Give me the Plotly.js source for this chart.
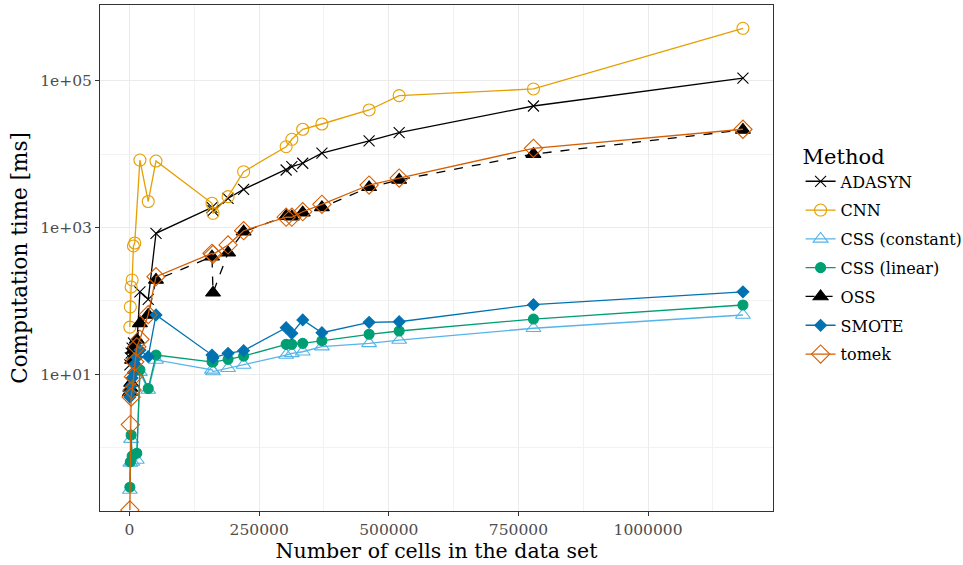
<!DOCTYPE html>
<html>
<head>
<meta charset="utf-8">
<script src="https://cdn.plot.ly/plotly-3.0.1.min.js"></script>
<style>
  html, body { margin: 0; padding: 0; background: #ffffff; }
  #chart { width: 963px; height: 565px; }
</style>
</head>
<body>
<div id="chart"></div>
<script>
// Number of cells in each benchmark data set
const cells = [600, 1500, 3000, 5000, 7500, 10000, 14000, 20000, 36000, 51000,
               159000, 161000, 190000, 220000, 302000, 313000, 334000, 371000,
               462000, 520000, 779000, 1183000];

// Computation time [ms] per method (null = not run on that data set)
const adasyn    = [13.4, 16.7, 19.5, 22.8, 26.7, 21, 25, 133, 105, 834,
                   1880, 1700, 2500, 3310, 6070, 6740, 7500, 10300,
                   15100, 19600, 45200, 108000];
const cnn       = [44, 83, 155, 193, 560, 615, null, 8300, 2260, 8050,
                   2140, 1560, 2630, 5760, 12600, 15900, 21800, 25700,
                   39900, 62500, 77100, 517000];
const cssConst  = [0.265, 0.62, 1.31, 0.64, null, null, 0.68, 10.7, 6.1, 15.7,
                   11.5, 10.9, 12.1, 13.4, 18.3, 19.3, 20.3, 23.8,
                   26.4, 29.3, 42.4, 64.3];
const cssLinear = [0.29, 0.64, 1.49, 0.77, null, null, 0.84, 11.5, 6.4, 18.3,
                   14.9, 14.7, 16, 17.7, 25.6, 25.6, 26.4, 28.7,
                   35.1, 38.9, 56.6, 88];
const oss       = [5.7, 6.5, 7.6, 15.7, 21.4, 25, 29.5, 49.5, 64.5, 193,
                   400, 129, 454, 877, 1430, 1400, 1590, 1880,
                   3530, 4440, 10000, 21300];
const smote     = [4.9, 5.7, 6.9, 8.9, 10.6, 13.8, 17, 21.4, 17.4, 64.3,
                   18.3, 16.7, 19.3, 21, 43.1, 36.2, 55, 36.9,
                   51, 52, 88.8, 133];
const tomek     = [0.142, 2.07, 4.9, 6.1, 9.3, 14.8, 23.7, 30, 65, 214,
                   445, 430, 578, 904, 1380, 1380, 1640, 2070,
                   3790, 4720, 12000, 21800];

const methods = ["ADASYN", "CNN", "CSS (constant)", "CSS (linear)", "OSS", "SMOTE", "tomek"];
const seriesValues = [adasyn, cnn, cssConst, cssLinear, oss, smote, tomek];

// Okabe-Ito colours, ggplot-like point shapes
const styles = [
  {color: "#000000", symbol: "x-thin-open", size: 11, dash: "solid"},
  {color: "#E69F00", symbol: "circle-open", size: 12, dash: "solid"},
  {color: "#56B4E9", symbol: "triangle-up-open", size: 13, dash: "solid"},
  {color: "#009E73", symbol: "circle", size: 10, dash: "solid"},
  {color: "#000000", symbol: "triangle-up", size: 13, dash: "dash"},
  {color: "#0072B2", symbol: "diamond", size: 9, dash: "solid"},
  {color: "#D55E00", symbol: "diamond-open", size: 14, dash: "solid"}
];

const traces = methods.map((name, i) => ({
  type: "scatter",
  mode: "lines+markers",
  name: name,
  legendgroup: name,
  x: cells,
  y: seriesValues[i],
  connectgaps: true,
  line: {color: styles[i].color, width: 1.3, dash: styles[i].dash},
  marker: {
    color: styles[i].color,
    symbol: styles[i].symbol,
    size: styles[i].size,
    line: {color: styles[i].color, width: 1.1}
  },
  cliponaxis: true
}));

const FONT = "DejaVu Serif, serif";

const layout = {
  width: 963,
  height: 565,
  margin: {l: 100, r: 190, t: 5, b: 54, autoexpand: false},
  paper_bgcolor: "#ffffff",
  plot_bgcolor: "#ffffff",
  font: {family: FONT, color: "#000000"},
  showlegend: true,
  legend: {
    x: 1.041, xanchor: "left",
    y: 0.739, yanchor: "top",
    title: {text: "Method", font: {family: FONT, size: 21, color: "#000000"}},
    font: {family: FONT, size: 16, color: "#000000"},
    tracegroupgap: 5,
    itemwidth: 30,
    bgcolor: "rgba(0,0,0,0)"
  },
  xaxis: {
    range: [-57000, 1241000],
    tickmode: "array",
    tickvals: [0, 250000, 500000, 750000, 1000000],
    ticktext: ["0", "250000", "500000", "750000", "1000000"],
    tickfont: {family: FONT, size: 15.5, color: "#4D4D4D"},
    ticks: "outside", ticklen: 4, tickwidth: 1, tickcolor: "#333333",
    showgrid: true, gridcolor: "#EBEBEB", gridwidth: 1,
    minor: {tickmode: "array", tickvals: [125000, 375000, 625000, 875000, 1125000],
            showgrid: true, gridcolor: "#F2F2F2", gridwidth: 1, ticks: ""},
    zeroline: false,
    showline: true, linecolor: "#333333", linewidth: 1, mirror: true,
    title: {text: "Number of cells in the data set", font: {family: FONT, size: 20.5, color: "#000000"}, standoff: 3}
  },
  yaxis: {
    type: "log",
    range: [-0.862, 6.031],
    tickmode: "array",
    tickvals: [10, 1000, 100000],
    ticktext: ["1e+01", "1e+03", "1e+05"],
    tickfont: {family: FONT, size: 15.5, color: "#4D4D4D"},
    ticks: "outside", ticklen: 4, tickwidth: 1, tickcolor: "#333333",
    showgrid: true, gridcolor: "#EBEBEB", gridwidth: 1,
    minor: {tickmode: "array", tickvals: [1, 100, 10000],
            showgrid: true, gridcolor: "#F2F2F2", gridwidth: 1, ticks: ""},
    zeroline: false,
    showline: true, linecolor: "#333333", linewidth: 1, mirror: true,
    title: {text: "Computation time [ms]", font: {family: FONT, size: 21.5, color: "#000000"}, standoff: 6}
  }
};

Plotly.newPlot("chart", traces, layout, {displayModeBar: false, staticPlot: true});
</script>
</body>
</html>
